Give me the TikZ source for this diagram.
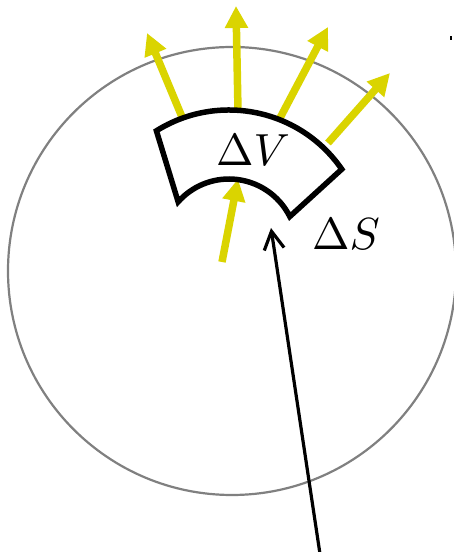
\documentclass[tikz,border=0pt]{standalone}
\usetikzlibrary{arrows.meta}
\definecolor{flux}{RGB}{218,212,0}
\definecolor{ringgray}{RGB}{128,128,128}
\tikzset{
  fluxarrow/.style={draw=flux, line width=7.5pt, -{Triangle[length=22pt,width=22pt]}, fill=flux},
  sectorline/.style={draw=black, line width=5.5pt, line join=miter},
  pointer/.style={draw=black, line width=3.2pt, -{Straight Barb[length=18pt,width=20pt,line width=3.2pt]}},
  lbl/.style={scale=4.5, inner sep=0pt, anchor=base}
}
\begin{document}
\begin{tikzpicture}[x=1pt,y=1pt]
\useasboundingbox (0,0) rectangle (454,552);
% big circle
\coordinate (C) at (232,281);
\draw[ringgray, line width=2.2pt] (C) circle[radius=224];
% flux arrows
\coordinate (a1s) at (182,435); \coordinate (a1e) at (147,519);
\coordinate (a2s) at (238,441); \coordinate (a2e) at (236,546);
\coordinate (a3s) at (280,434); \coordinate (a3e) at (328,525);
\coordinate (a4s) at (328,409); \coordinate (a4e) at (390,479);
\coordinate (a5s) at (222,290); \coordinate (a5e) at (238,373);
\draw[fluxarrow] (a1s) -- (a1e);
\draw[fluxarrow] (a2s) -- (a2e);
\draw[fluxarrow] (a3s) -- (a3e);
\draw[fluxarrow] (a4s) -- (a4e);
\draw[fluxarrow] (a5s) -- (a5e);
% sector Delta V
\coordinate (O) at (229,305);
\draw[sectorline] ([shift={(122:137)}]O) arc[start angle=122, end angle=34.6, radius=137]
  -- ([shift={(26.6:68)}]O) arc[start angle=26.6, end angle=138.4, radius=68] -- cycle;
% labels
\node[lbl] (dV) at (253,386) {$\Delta V$};
\node[lbl] (dS) at (346,302) {$\Delta S$};
% pointer arrow
\coordinate (ps) at (320,-2);
\coordinate (pe) at (271,324);
\draw[pointer] (ps) -- (pe);
% tiny speck at right edge
\fill[black] (450,512) rectangle (452,516);
\end{tikzpicture}
\end{document}
